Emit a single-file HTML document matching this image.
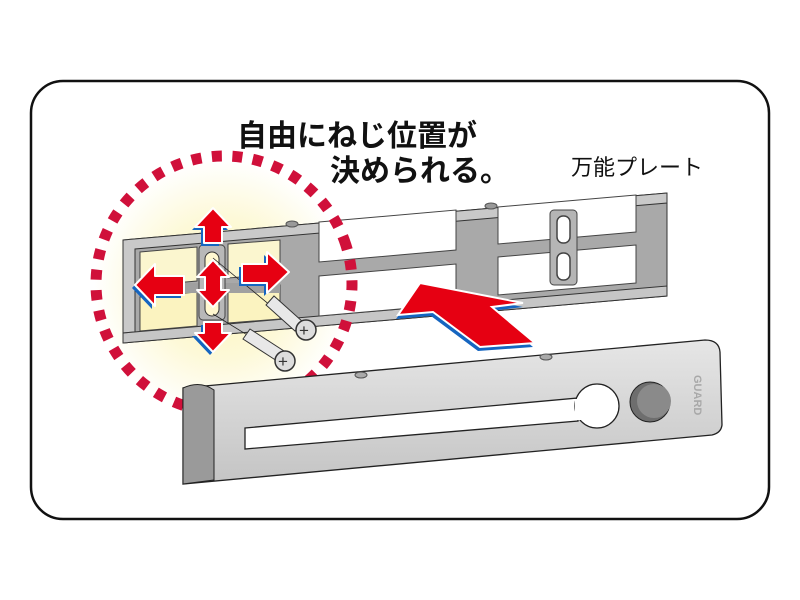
<!DOCTYPE html>
<html><head><meta charset="utf-8"><style>
html,body{margin:0;padding:0;background:#fff;width:800px;height:600px;overflow:hidden}
svg{display:block}
.t{font-family:"Liberation Sans","Noto Sans CJK JP",sans-serif}
</style></head><body>
<svg width="800" height="600" viewBox="0 0 800 600" xmlns="http://www.w3.org/2000/svg">
<defs>
<radialGradient id="glow" cx="0.5" cy="0.5" r="0.5">
<stop offset="0" stop-color="#fdf6b8"/>
<stop offset="0.55" stop-color="#fdf9d8"/>
<stop offset="1" stop-color="#ffffff"/>
</radialGradient>
<linearGradient id="bar" x1="0" y1="0" x2="0" y2="1">
<stop offset="0" stop-color="#e6e6e6"/>
<stop offset="1" stop-color="#c4c4c4"/>
</linearGradient>
</defs>
<rect x="0" y="0" width="800" height="600" fill="#fff"/>
<rect x="31" y="81" width="738" height="438" rx="32" fill="#fff" stroke="#111" stroke-width="2.5"/>
<circle cx="222" cy="288" r="128" fill="url(#glow)"/>

<polygon points="123,240 667,193 667,296 123,343" fill="#a9a9a9" stroke="#333" stroke-width="1"/>
<polygon points="123,240 667,193 667,203 135,249 135,332 123,333" fill="#c9c9c9" stroke="#333" stroke-width="1"/>
<polygon points="123,333 667,286 667,296 123,343" fill="#c6c6c6" stroke="#333" stroke-width="1"/>
<polygon points="140,252 197,247 197,281 140,286" fill="#fbf6cf" stroke="#444"/>
<polygon points="140,297 197,292 197,326 140,331" fill="#fbf3c0" stroke="#444"/>
<polygon points="228,244 280,240 280,274 228,278" fill="#fbf6cf" stroke="#444"/>
<polygon points="228,289 280,285 280,319 228,323" fill="#fbf3c0" stroke="#444"/>
<rect x="140" y="283" width="140" height="10" fill="#a0a0a0"/>
<polygon points="319,222 456,210 456,250 319,262" fill="#fff" stroke="#444"/>
<polygon points="319,276 456,264 456,304 319,316" fill="#fff" stroke="#444"/>
<polygon points="498,207 636,195 636,232 498,244" fill="#fff" stroke="#444"/>
<polygon points="498,257 636,245 636,283 498,295" fill="#fff" stroke="#444"/>
<rect x="550" y="210" width="27" height="75" rx="4" fill="#b5b5b5" stroke="#444"/>
<rect x="557" y="216" width="13" height="27" rx="6" fill="#fff" stroke="#444" stroke-width="1.5"/>
<rect x="557" y="253" width="13" height="27" rx="6" fill="#fff" stroke="#444" stroke-width="1.5"/>
<ellipse cx="292" cy="224" rx="6" ry="3" fill="#999" stroke="#555"/>
<ellipse cx="491" cy="206" rx="6" ry="3" fill="#999" stroke="#555"/>
<rect x="199" y="245" width="26" height="75" rx="4" fill="#b8b8b8" stroke="#444"/>
<rect x="205" y="252" width="14" height="26" rx="7" fill="#fff8d0" stroke="#333"/>
<rect x="205" y="290" width="14" height="26" rx="7" fill="#fff8d0" stroke="#333"/>
<line x1="213" y1="258" x2="300" y2="330" stroke="#222" stroke-width="0.8"/>
<line x1="213" y1="314" x2="285" y2="358" stroke="#222" stroke-width="0.8"/>
<polygon points="266,305 274,296 303,322 295,331" fill="#e8e8e8" stroke="#333"/>
<circle cx="306" cy="330" r="10" fill="#ddd" stroke="#333" stroke-width="1.5"/>
<text x="299" y="336" font-size="17" font-family="Liberation Sans" fill="#333">+</text>
<polygon points="243,339 250,329 284,351 277,361" fill="#e8e8e8" stroke="#333"/>
<circle cx="285" cy="361" r="10" fill="#ddd" stroke="#333" stroke-width="1.5"/>
<text x="278" y="367" font-size="17" font-family="Liberation Sans" fill="#333">+</text>

<circle cx="224" cy="284" r="128" fill="none" stroke="#d0103a" stroke-width="11" stroke-dasharray="10 10.5" transform="rotate(-20 224 284)"/>

<g stroke-linejoin="round">
<g fill="#1565c0" transform="translate(-3,3)">
<polygon points="213,208 231,227 222,227 222,243 204,243 204,227 195,227"/>
<polygon points="135,285 155,264 155,276 184,276 184,295 155,295 155,306"/>
<polygon points="213,352 231,333 222,333 222,322 204,322 204,333 195,333"/>
<polygon points="289,272 267,252 267,264 242,264 242,283 267,283 267,293"/>
</g>
<g fill="#e60012" stroke="#fff" stroke-width="2">
<polygon points="213,208 231,227 222,227 222,243 204,243 204,227 195,227"/>
<polygon points="135,285 155,264 155,276 184,276 184,295 155,295 155,306"/>
<polygon points="289,272 267,252 267,264 242,264 242,283 267,283 267,293"/>
<polygon points="213,352 231,333 222,333 222,322 204,322 204,333 195,333"/>
<polygon points="213,260 229,277 221,277 221,290 229,290 213,307 197,290 205,290 205,277 197,277"/>
</g>
</g>

<polygon points="420,287 396,319 431,316 478,351 533,347 490,311 523,307" fill="#1565c0"/>
<polygon points="420,283 398,315 433,312 480,347 535,343 492,307 523,303" fill="#e60012" stroke="#fff" stroke-width="2"/>

<path d="M183,388 L705,340 Q719,340 720,352 L722,425 Q721,433 712,435 L183,484 Z" fill="url(#bar)" stroke="#222" stroke-width="1.3"/>
<path d="M183,388 Q200,380 214,390 L214,480 L183,484 Z" fill="#9a9a9a" stroke="#222"/>
<polygon points="245,428 578,398 578,421 245,449" fill="#fff" stroke="#222" stroke-width="1.3"/>
<circle cx="597" cy="406" r="22" fill="#fff" stroke="#222" stroke-width="1.3"/>
<rect x="575" y="399" width="6" height="21" fill="#fff"/>
<circle cx="650" cy="402" r="20" fill="#6e6e6e" stroke="#222"/>
<circle cx="654" cy="401" r="17" fill="#8a8a8a"/>
<ellipse cx="361" cy="375" rx="6" ry="3" fill="#aaa" stroke="#555"/>
<ellipse cx="546" cy="357" rx="6" ry="3" fill="#aaa" stroke="#555"/>
<text x="0" y="0" font-size="11" font-weight="bold" fill="#a8a8a8" font-family="Liberation Sans" transform="translate(694,375) rotate(90)">GUARD</text>

<text class="t" x="237" y="146" font-size="30" font-weight="bold" fill="#111">自由にねじ位置が</text>
<text class="t" x="330" y="181" font-size="30" font-weight="bold" fill="#111">決められる。</text>
<text class="t" x="571" y="175" font-size="22" fill="#111">万能プレート</text>
</svg>
</body></html>
